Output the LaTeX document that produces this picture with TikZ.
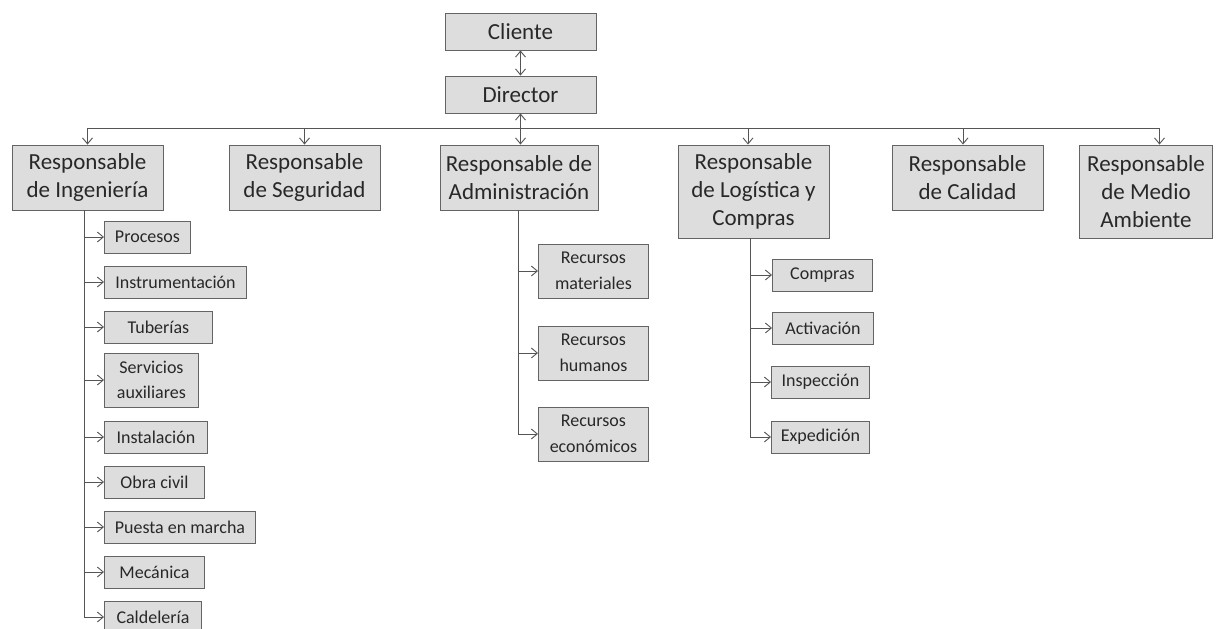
\documentclass[tikz,border=0pt]{standalone}
\usepackage{fontspec}
\setmainfont{Carlito}
\usepackage{tikz}
\usetikzlibrary{positioning}
\usetikzlibrary{shapes,arrows,calc,arrows.meta}

\definecolor{boxfill}{RGB}{221,221,221}
\definecolor{boxline}{RGB}{100,100,100}
\definecolor{wire}{RGB}{85,85,85}
\definecolor{ink}{RGB}{40,40,40}

\tikzset{
  head/.style={draw=boxline, fill=boxfill, text=ink, line width=0.9pt, align=center,
    font=\fontsize{23}{28}\selectfont, minimum width=151pt, minimum height=65pt, inner sep=0pt},
  sub/.style={draw=boxline, fill=boxfill, text=ink, line width=0.9pt, align=center,
    font=\fontsize{18}{25.5}\selectfont, minimum height=32pt, inner sep=0pt, anchor=west},
  wirearr/.style={draw=wire, line width=0.9pt, -{Straight Barb[length=6pt,width=10pt]}},
  wireboth/.style={draw=wire, line width=0.9pt, {Straight Barb[length=6pt,width=10pt]}-{Straight Barb[length=6pt,width=10pt]}}
}

\begin{document}
\begin{tikzpicture}[x=1pt, y=-1pt]
  \useasboundingbox (0,0) rectangle (1219,629);
  % Nodes
  \node [head, minimum height=37pt] (cli) at (520.5,31.5) {Cliente};
  \node [head, minimum height=37pt] (dir) at (520.5,94.5) {Director};
  \node [head] (ing) at (87.5,177.5) {Responsable\\de Ingeniería};
  \node [head] (seg) at (304.5,177.5) {Responsable\\de Seguridad};
  \node [head, minimum width=158pt] (adm) at (519,177.5) {Responsable de\\Administración};
  \node [head, minimum height=93pt] (log) at (753.5,191.5) {Responsable\\de Logística y\\Compras};
  \node [head] (cal) at (967.5,177.5) {Responsable\\de Calidad};
  \node [head, minimum height=93pt, minimum width=133pt] (med) at (1146,191.5) {Responsable\\de Medio\\Ambiente};
  \coordinate (bus) at (520,128);
  \coordinate (logtop) at ([xshift=-5.5pt]log.north);
  \coordinate (caltop) at ([xshift=-4.5pt]cal.north);
  \coordinate (medtop) at ([xshift=13.5pt]med.north);

  % Ingenieria
  \node [sub, minimum width=86pt] (proc) at (104,237) {Procesos};
  \node [sub, minimum width=142pt] (instr) at (104,282) {Instrumentación};
  \node [sub, minimum width=108pt] (tub) at (104,327) {Tuberías};
  \node [sub, minimum width=94pt, minimum height=54pt] (serv) at (104,380) {Servicios\\auxiliares};
  \node [sub, minimum width=103pt] (inst) at (104,437) {Instalación};
  \node [sub, minimum width=100pt] (obra) at (104,482) {Obra civil};
  \node [sub, minimum width=151pt] (pem) at (104,527) {Puesta en marcha};
  \node [sub, minimum width=100pt] (mec) at (104,572) {Mecánica};
  \node [sub, minimum width=97pt] (cald) at (104,617) {Caldelería};

  % Administracion
  \node [sub, minimum width=110pt, minimum height=54pt] (rmat) at (538,271) {Recursos\\materiales};
  \node [sub, minimum width=110pt, minimum height=54pt] (rhum) at (538,353) {Recursos\\humanos};
  \node [sub, minimum width=110pt, minimum height=54pt] (reco) at (538,434) {Recursos\\económicos};

  % Logistica
  \node [sub, minimum width=100pt] (comp) at (772,275) {Compras};
  \node [sub, minimum width=101pt] (activ) at (772,328) {Activación};
  \node [sub, minimum width=98pt] (insp) at (771,382) {Inspección};
  \node [sub, minimum width=98pt] (exped) at (771,437) {Expedición};

  % Arrows
  \draw [wireboth] (cli) -- (dir);
  \draw [wireboth] (dir) -- (dir |- adm.north);
  \draw [draw=wire, line width=0.9pt] (bus -| ing) -- (bus -| medtop);
  \draw [wirearr] (bus -| ing) -- (ing);
  \draw [wirearr] (bus -| seg) -- (seg);
  \draw [wirearr] (bus -| logtop) -- (logtop);
  \draw [wirearr] (bus -| caltop) -- (caltop);
  \draw [wirearr] (bus -| medtop) -- (medtop);

  \foreach \s in {proc,instr,tub,serv,inst,obra,pem,mec,cald}
    \draw [wirearr] ([xshift=-3.5pt]ing.south) |- (\s.west);
  \foreach \s in {rmat,rhum,reco}
    \draw [wirearr] ([xshift=-1pt]adm.south) |- (\s.west);
  \foreach \s in {comp,activ,insp,exped}
    \draw [wirearr] ([xshift=-3.5pt]log.south) |- (\s.west);
\end{tikzpicture}
\end{document}
